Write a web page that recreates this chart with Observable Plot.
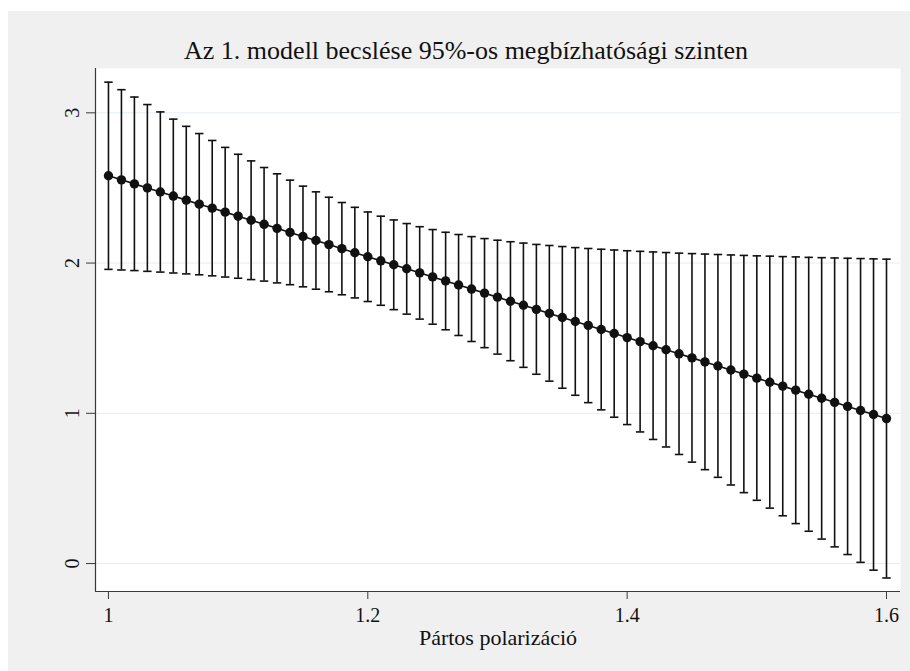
<!DOCTYPE html>
<html><head><meta charset="utf-8">
<script src="https://cdn.jsdelivr.net/npm/d3@7"></script>
<script src="https://cdn.jsdelivr.net/npm/@observablehq/plot@0.6"></script>
<style>
html,body{margin:0;padding:0;background:#fff;}
#wrap{position:absolute;left:8px;top:11px;width:902px;height:660px;background:#f0f0f0;overflow:hidden;font-family:"Liberation Serif","Times New Roman",serif;}
#title{height:55px;box-sizing:border-box;padding-top:25px;padding-left:14px;line-height:30px;font-size:26px;text-align:center;color:#111;white-space:nowrap;}
#chart svg{display:block;}
</style></head><body>
<div id="wrap"><div id="title"></div><div id="chart"></div></div>
<script>
const titleText = "Az 1. modell becslése 95%-os megbízhatósági szinten";
const xLabel = "Pártos polarizáció";
const xValues = [1.00,1.01,1.02,1.03,1.04,1.05,1.06,1.07,1.08,1.09,
  1.10,1.11,1.12,1.13,1.14,1.15,1.16,1.17,1.18,1.19,
  1.20,1.21,1.22,1.23,1.24,1.25,1.26,1.27,1.28,1.29,
  1.30,1.31,1.32,1.33,1.34,1.35,1.36,1.37,1.38,1.39,
  1.40,1.41,1.42,1.43,1.44,1.45,1.46,1.47,1.48,1.49,
  1.50,1.51,1.52,1.53,1.54,1.55,1.56,1.57,1.58,1.59,1.60];
const estimates = [2.581,2.554,2.527,2.500,2.473,2.446,2.419,2.392,2.366,2.339,
  2.312,2.285,2.258,2.231,2.204,2.177,2.150,2.123,2.096,2.069,
  2.042,2.015,1.989,1.962,1.935,1.908,1.881,1.854,1.827,1.800,
  1.773,1.746,1.719,1.692,1.665,1.638,1.611,1.585,1.558,1.531,
  1.504,1.477,1.450,1.423,1.396,1.369,1.342,1.315,1.288,1.261,
  1.234,1.207,1.181,1.154,1.127,1.100,1.073,1.046,1.019,0.992,0.965];
const upper = [3.204,3.154,3.105,3.055,3.006,2.958,2.910,2.862,2.816,2.770,
  2.724,2.680,2.636,2.594,2.552,2.512,2.474,2.438,2.403,2.371,
  2.340,2.312,2.287,2.263,2.242,2.223,2.205,2.190,2.176,2.163,
  2.152,2.142,2.133,2.124,2.117,2.110,2.103,2.097,2.092,2.087,
  2.082,2.078,2.074,2.070,2.066,2.063,2.060,2.057,2.054,2.051,
  2.048,2.046,2.043,2.041,2.038,2.036,2.034,2.032,2.030,2.028,2.026];
const lower = [1.958,1.954,1.950,1.945,1.940,1.934,1.928,1.922,1.915,1.907,
  1.899,1.890,1.880,1.868,1.856,1.842,1.826,1.809,1.789,1.768,
  1.744,1.719,1.690,1.660,1.627,1.593,1.556,1.518,1.478,1.437,
  1.394,1.350,1.306,1.260,1.214,1.167,1.120,1.071,1.023,0.974,
  0.925,0.876,0.826,0.776,0.726,0.675,0.625,0.574,0.523,0.472,
  0.421,0.369,0.318,0.266,0.215,0.163,0.111,0.060,0.008,-0.044,-0.096];
const xTicks = [1, 1.2, 1.4, 1.6];
const xTickLabels = ["1", "1.2", "1.4", "1.6"];
const yTicks = [0, 1, 2, 3];
const yTickLabels = ["0", "1", "2", "3"];
const xDomain = [0.990, 1.6108];
const yDomain = [-0.186, 3.295];

document.getElementById("title").textContent = titleText;

const data = xValues.map((x, i) => ({x, est: estimates[i], lo: lower[i], hi: upper[i]}));
const capSymbol = {draw(ctx, size) { const r = Math.sqrt(size / Math.PI); ctx.moveTo(-r, 0); ctx.lineTo(r, 0); }};
const ink = "#111";
const axisColor = "#3a3a3a";
const font = '"Liberation Serif","Times New Roman",serif';

const plot = Plot.plot({
  width: 902, height: 605,
  marginTop: 2, marginBottom: 80, marginLeft: 87, marginRight: 10,
  style: {background: "transparent", fontFamily: font, fontSize: "20px", color: "#111"},
  x: {domain: xDomain},
  y: {domain: yDomain},
  marks: [
    Plot.frame({fill: "white", stroke: "none"}),
    Plot.gridY(yTicks, {stroke: "#e4edf0", strokeOpacity: 1, strokeWidth: 1}),
    Plot.ruleX([xDomain[0]], {stroke: axisColor, strokeWidth: 1.2}),
    Plot.ruleY([yDomain[0]], {stroke: axisColor, strokeWidth: 1.2}),
    Plot.axisX(xTicks, {tickSize: 8, tickPadding: 8.5, tickFormat: d => xTickLabels[xTicks.indexOf(d)], stroke: axisColor, fill: "#111", fontSize: 20, label: null}),
    Plot.axisY(yTicks, {tickSize: 9, tickPadding: 8, tickRotate: -90, tickFormat: d => yTickLabels[yTicks.indexOf(d)], stroke: axisColor, fill: "#111", fontSize: 20, label: null}),
    Plot.ruleX(data, {x: "x", y1: "lo", y2: "hi", stroke: ink, strokeWidth: 1.6}),
    Plot.dot(data, {x: "x", y: "hi", symbol: capSymbol, r: 4.2, stroke: ink, strokeWidth: 1.6, fill: "none"}),
    Plot.dot(data, {x: "x", y: "lo", symbol: capSymbol, r: 4.2, stroke: ink, strokeWidth: 1.6, fill: "none"}),
    Plot.line(data, {x: "x", y: "est", stroke: ink, strokeWidth: 1.6}),
    Plot.dot(data, {x: "x", y: "est", r: 4.7, fill: ink, stroke: "none"}),
    Plot.text([xLabel], {frameAnchor: "bottom", dy: 53, lineAnchor: "bottom", fontSize: 22, fill: "#111"})
  ]
});
document.getElementById("chart").append(plot);
</script>
</body></html>
